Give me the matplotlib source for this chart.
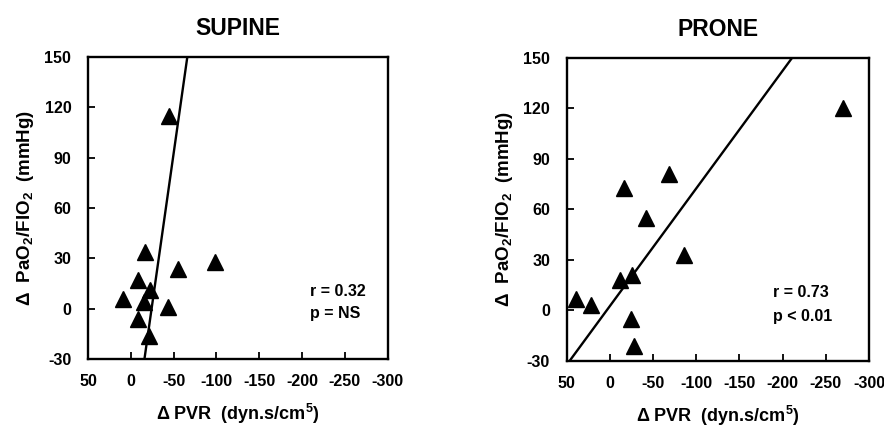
import numpy as np
import matplotlib
matplotlib.use('Agg')
import matplotlib.pyplot as plt

plt.rcParams['font.family'] = ['Liberation Sans', 'DejaVu Sans']
plt.rcParams['font.weight'] = 'bold'
plt.rcParams['mathtext.fontset'] = 'custom'
plt.rcParams['mathtext.bf'] = 'Liberation Sans:bold'
plt.rcParams['mathtext.rm'] = 'Liberation Sans:bold'
plt.rcParams['mathtext.default'] = 'bf'
plt.rcParams['axes.unicode_minus'] = False

# values: change in PVR (x) and PaO2/FIO2 (y)
supine_pvr = [-45, -17, -98, -55, -9, -23, 9, -16, -44, -9, -21]
supine_pf = [115, 34, 28, 24, 17, 11, 6, 4, 1, -6, -16]
prone_pvr = [-270, -68, -16, -42, -86, -12, -26, 39, 22, -24, -28]
prone_pf = [120, 81, 73, 55, 33, 18, 21, 7, 3, -5, -21]

titles = ['SUPINE', 'PRONE']
stats = [['r = 0.32', 'p = NS'], ['r = 0.73', 'p < 0.01']]
xticks = [50, 0, -50, -100, -150, -200, -250, -300]
yticks = [-30, 0, 30, 60, 90, 120, 150]

fig = plt.figure(figsize=(8.84, 4.26), dpi=100)
ax1 = fig.add_axes([0.0995, 0.157, 0.339, 0.709])
ax2 = fig.add_axes([0.641, 0.153, 0.342, 0.711])

data = [(supine_pvr, supine_pf), (prone_pvr, prone_pf)]
stat_pos = [(0.74, 0.225, 0.152), (0.681, 0.224, 0.146)]

for i, ax in enumerate([ax1, ax2]):
    x = np.array(data[i][0], dtype=float)
    y = np.array(data[i][1], dtype=float)
    ax.plot(x, y, linestyle='none', marker='^', color='black', ms=11.5, zorder=3)
    # line from regressing PVR on PaO2/FIO2
    b, a = np.polyfit(y, x, 1)
    yy = np.array([-30, 150])
    ax.plot(a + b * yy, yy, color='black', lw=1.7, zorder=2)

    ax.set_xlim(50, -300)
    ax.set_ylim(-30, 150)
    ax.set_xticks(xticks)
    ax.set_yticks(yticks)
    ax.tick_params(direction='in', length=5, width=1.3, labelsize=11.5)
    ax.tick_params(axis='x', pad=11)
    ax.tick_params(axis='y', pad=12)
    for lab in ax.get_xticklabels() + ax.get_yticklabels():
        lab.set_fontweight('bold')
    for s in ax.spines.values():
        s.set_linewidth(1.7)

    ax.set_title(titles[i], fontsize=16.5, fontweight='bold', pad=16)
    ax.set_xlabel('Δ PVR  (dyn.s/cm$^5$)', fontsize=13, fontweight='bold', labelpad=9)
    ax.set_ylabel('Δ  PaO$_2$/FIO$_2$  (mmHg)', fontsize=13.5, fontweight='bold', labelpad=6)

    px, py1, py2 = stat_pos[i]
    ax.text(px, py1, stats[i][0], transform=ax.transAxes, fontsize=11.5,
            fontweight='bold', va='center', ha='left')
    ax.text(px, py2, stats[i][1], transform=ax.transAxes, fontsize=11.5,
            fontweight='bold', va='center', ha='left')

fig.savefig('out.png', dpi=100)
